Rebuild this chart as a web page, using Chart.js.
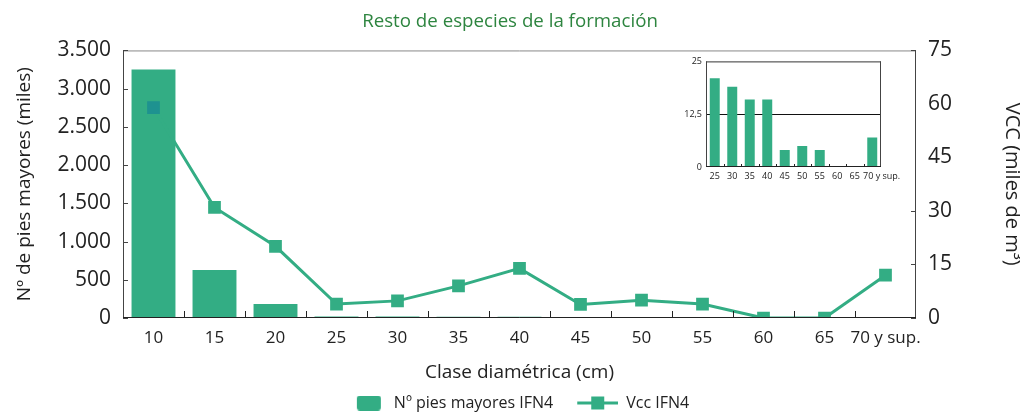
<!DOCTYPE html>
<html>
<head>
<meta charset="utf-8">
<script src="https://cdn.jsdelivr.net/npm/chart.js@4.4.1/dist/chart.umd.min.js"></script>
<style>
  html, body { margin: 0; padding: 0; background: #fff; }
  #wrap { position: relative; width: 1020px; height: 412px; overflow: hidden; }
  #main { position: absolute; left: 0; top: 0; }
  #inset { position: absolute; left: 660px; top: 52px; background: #fff; }
</style>
</head>
<body>
<div id="wrap">
  <canvas id="main" width="1020" height="412"></canvas>
  <canvas id="inset" width="255" height="135"></canvas>
</div>
<script>
// Clases diamétricas (cm)
const categories = ['10', '15', '20', '25', '30', '35', '40', '45', '50', '55', '60', '65', '70 y sup.'];
// Nº pies mayores IFN4 (miles)
const piesMayores = [3250, 627, 183, 21, 19, 16, 16, 4, 5, 4, 0, 0, 7];
// Vcc IFN4 (miles de m3)
const vcc = [59, 31, 20.1, 3.9, 4.8, 9.0, 13.9, 3.8, 5.0, 3.9, 0, 0, 12.0];
// inset: from 25 cm upwards
const insetCategories = ['25', '30', '35', '40', '45', '50', '55', '60', '65', '70 y sup.'];
const insetPies = [21, 19, 16, 16, 4, 5, 4, 0, 0, 7];

const leftTicks = [0, 500, 1000, 1500, 2000, 2500, 3000, 3500];
const rightTicks = [0, 15, 30, 45, 60, 75];

const GREEN = '#33ad84';
const FONT = "'Open Sans', sans-serif";

Chart.defaults.font.family = FONT;
Chart.defaults.color = '#222';

function fmtMiles(v) {
  return v.toString().replace(/\B(?=(\d{3})+(?!\d))/g, '.');
}

// box around plot area + ticks pointing inwards
const frameTicks = {
  id: 'frameTicks',
  afterDraw(chart, args, opts) {
    const {ctx, chartArea: a} = chart;
    ctx.save();
    ctx.lineWidth = 1;
    const line = (x1, y1, x2, y2, c) => {
      ctx.strokeStyle = c;
      ctx.beginPath();
      ctx.moveTo(x1, y1);
      ctx.lineTo(x2, y2);
      ctx.stroke();
    };
    line(a.left, a.top + 0.5, a.right, a.top + 0.5, opts.top || '#888');
    line(a.left + 0.5, a.top, a.left + 0.5, a.bottom, '#444');
    line(a.right - 0.5, a.top, a.right - 0.5, a.bottom, '#444');
    line(a.left, a.bottom - 0.5, a.right, a.bottom - 0.5, '#222');

    const x = chart.scales.x;
    const n = x.ticks.length;
    for (let i = 1; i < n; i++) {
      const px = Math.round((x.getPixelForTick(i - 1) + x.getPixelForTick(i)) / 2) + 0.5;
      line(px, a.bottom, px, a.bottom - opts.xLen, '#222');
    }
    Object.values(chart.scales).forEach(s => {
      if (s.axis !== 'y' || !opts.yLen) return;
      s.ticks.forEach((t, i) => {
        const py = Math.round(s.getPixelForTick(i)) + 0.5;
        if (s.position === 'left') line(a.left, py, a.left + opts.yLen, py, '#444');
        else line(a.right - opts.yLen, py, a.right, py, '#444');
      });
    });
    ctx.restore();
  }
};

// legend symbols (same box width for both, drawn at the right end)
const barSym = document.createElement('canvas');
barSym.width = 55; barSym.height = 15;
{
  const c = barSym.getContext('2d');
  c.fillStyle = GREEN;
  c.beginPath();
  c.roundRect(26, 0, 24, 15, 3);
  c.fill();
}
const lineSym = document.createElement('canvas');
lineSym.width = 55; lineSym.height = 15;
{
  const c = lineSym.getContext('2d');
  c.fillStyle = GREEN;
  c.fillRect(14, 6, 41, 3);
  c.fillRect(28, 1, 13, 13);
}

new Chart(document.getElementById('main'), {
  type: 'bar',
  data: {
    labels: categories,
    datasets: [
      {
        type: 'bar',
        label: 'Nº pies mayores IFN4',
        data: piesMayores,
        yAxisID: 'y',
        backgroundColor: GREEN,
        barPercentage: 0.8,
        categoryPercentage: 0.9,
        order: 1
      },
      {
        type: 'line',
        label: 'Vcc IFN4',
        data: vcc,
        yAxisID: 'y1',
        borderColor: GREEN,
        borderWidth: 3,
        tension: 0,
        pointStyle: 'rect',
        pointRadius: 9,
        pointBorderWidth: 0,
        pointBackgroundColor: vcc.map((v, i) => i === 0 ? '#1e9290' : GREEN),
        order: 0
      }
    ]
  },
  options: {
    responsive: false,
    animation: false,
    layout: { padding: { left: 0, right: 0, top: 0, bottom: -9 } },
    plugins: {
      title: {
        display: true,
        text: 'Resto de especies de la formación',
        color: '#2e8540',
        font: { size: 18.7, weight: 'normal', family: FONT },
        padding: { top: 10, bottom: 18 }
      },
      legend: {
        position: 'bottom',
        labels: {
          usePointStyle: true,
          pointStyleWidth: 55,
          padding: 10,
          color: '#222',
          font: { size: 16, family: FONT },
          generateLabels: chart => chart.data.datasets.map((ds, i) => ({
            text: ds.label,
            pointStyle: i === 0 ? barSym : lineSym,
            datasetIndex: i,
            hidden: false,
            fontColor: '#222',
            lineWidth: 0,
            strokeStyle: 'transparent'
          }))
        }
      },
      tooltip: { enabled: false },
      frameTicks: { xLen: 7, yLen: 5 }
    },
    scales: {
      x: {
        offset: true,
        grid: { display: false, drawTicks: false },
        border: { display: false },
        afterFit: s => { s.height = 67; },
        ticks: { font: { size: 17 }, padding: 10, maxRotation: 0, autoSkip: false, color: '#222' },
        title: { display: true, text: 'Clase diamétrica (cm)', font: { size: 19 }, color: '#222', padding: { top: 4, bottom: 1 } }
      },
      y: {
        position: 'left',
        min: 0,
        max: 3500,
        afterBuildTicks: s => { s.ticks = leftTicks.map(v => ({ value: v })); },
        afterFit: s => { s.width = 123; },
        grid: { display: false, drawTicks: false },
        border: { display: false },
        ticks: { font: { size: 21 }, padding: 12, color: '#222', callback: v => fmtMiles(v) },
        title: { display: true, text: 'Nº de pies mayores (miles)', font: { size: 19 }, color: '#222', padding: { top: 13, bottom: 0 } }
      },
      y1: {
        position: 'right',
        min: 0,
        max: 75,
        afterBuildTicks: s => { s.ticks = rightTicks.map(v => ({ value: v })); },
        afterFit: s => { s.width = 104; },
        grid: { display: false, drawTicks: false },
        border: { display: false },
        ticks: { font: { size: 21 }, padding: 12, color: '#222' },
        title: { display: true, text: 'VCC (miles de m³)', font: { size: 20 }, color: '#222', padding: { top: -4, bottom: -4 } }
      }
    }
  },
  plugins: [frameTicks]
});

new Chart(document.getElementById('inset'), {
  type: 'bar',
  data: {
    labels: insetCategories,
    datasets: [{
      label: 'Nº pies mayores IFN4',
      data: insetPies,
      backgroundColor: GREEN,
      barPercentage: 0.6,
      categoryPercentage: 0.95
    }]
  },
  options: {
    responsive: false,
    animation: false,
    layout: { padding: { left: 0, right: 34, top: 7, bottom: 0 } },
    plugins: {
      legend: { display: false },
      tooltip: { enabled: false },
      frameTicks: { xLen: 3, yLen: 0, top: '#333' }
    },
    scales: {
      x: {
        offset: true,
        grid: { display: false, drawTicks: false },
        border: { display: false },
        afterFit: s => { s.height = 20; },
        ticks: {
          font: { size: 9 }, padding: 4, maxRotation: 0, autoSkip: false, color: '#222',
          // the last label runs out to the right of its bar
          callback: (v, i, t) => i === t.length - 1 ? '        ' + insetCategories[i] : insetCategories[i]
        }
      },
      y: {
        min: 0,
        max: 25,
        afterFit: s => { s.width = 46; },
        grid: {
          drawTicks: false,
          color: c => c.tick && c.tick.value === 12.5 ? '#111' : 'transparent'
        },
        border: { display: false },
        ticks: { stepSize: 12.5, font: { size: 9 }, padding: 4, color: '#222', callback: v => String(v).replace('.', ',') }
      }
    }
  },
  plugins: [frameTicks]
});
</script>
</body>
</html>
